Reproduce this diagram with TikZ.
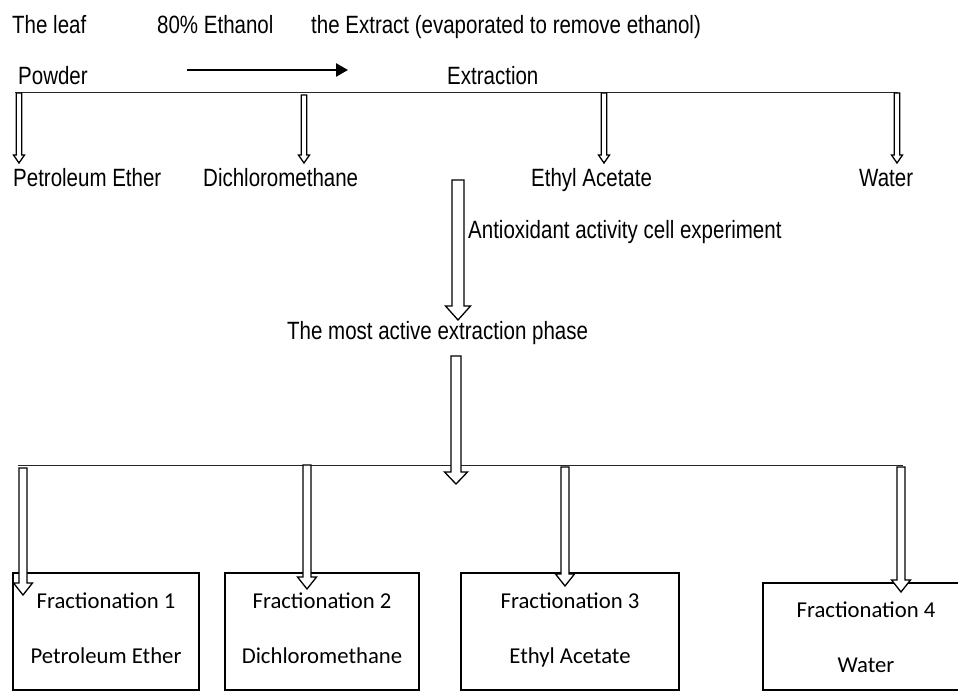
\documentclass[tikz,border=0pt]{standalone}
\usepackage{fontspec}
\setmainfont[FakeStretch=0.82]{Liberation Sans}
\newfontfamily\boxfont{Carlito}
\usetikzlibrary{calc,arrows.meta}
\begin{document}
\begin{tikzpicture}[x=1pt,y=-1pt,
  lbl/.style={anchor=base west, inner sep=0pt, font=\fontsize{25}{30}\selectfont},
  btxt/.style={anchor=base, inner sep=0pt, font=\boxfont\fontsize{22.7}{27}\selectfont},
  fbox/.style={draw, line width=1.3pt, inner sep=0pt},
  hline/.style={line width=1pt, draw=black!85},
  hollow/.style n args={3}{line width=1.3pt, fill=white, to path={let \p1=(\tikztostart), \p2=(\tikztotarget) in (\x1-#1,\y1) -- (\x1-#1,\y2+#3) -- (\x1-#2,\y2+#3) -- (\x2,\y2) -- (\x1+#2,\y2+#3) -- (\x1+#1,\y2+#3) -- (\x1+#1,\y1) -- cycle}},
  small/.style={hollow={2.8pt}{5.5pt}{8pt}},
  bottom/.style={hollow={4pt}{9.5pt}{12pt}},
]
\path[fill=white] (0,0) rectangle (958,692);
\useasboundingbox (0,0) rectangle (958,692);

% top texts
\node[lbl] (leaf) at (12,34) {The leaf};
\node[lbl] (eth) at (157,34) {80\% Ethanol};
\node[lbl] (extract) at (311,34) {the Extract (evaporated to remove ethanol)};
\node[lbl] (powder) at (18,85) {Powder};
\node[lbl] (extraction) at (447,85) {Extraction};

\coordinate (arA) at (187,70);
\coordinate (arB) at (348,70);
\draw[line width=2.5pt, -{Triangle[length=12pt,width=13pt]}] (arA) -- (arB);

% first split
\coordinate (l1a) at (15,93);
\coordinate (l1b) at (898,93);
\draw[hline] (l1a) -- (l1b);

\coordinate (s1) at (19,93);   \coordinate (t1) at (19,163);
\coordinate (s2) at (304,95);  \coordinate (t2) at (304,163);
\coordinate (s3) at (604,93);  \coordinate (t3) at (604,163);
\coordinate (s4) at (897,93);  \coordinate (t4) at (897,163);
\draw[small] (s1) to (t1);
\draw[small] (s2) to (t2);
\draw[small] (s3) to (t3);
\draw[small] (s4) to (t4);

\node[lbl] (pe) at (13,187) {Petroleum Ether};
\node[lbl] (dcm) at (203,187) {Dichloromethane};
\node[lbl] (ea) at (531,187) {Ethyl Acetate};
\node[lbl] (wa) at (859,187) {Water};

% big arrow 1
\coordinate (b1s) at (458,180);
\coordinate (b1t) at (458,320);
\draw[hollow={6pt}{12.5pt}{14pt}] (b1s) to (b1t);
\node[lbl] (anti) at (468,239) {Antioxidant activity cell experiment};
\node[lbl] (most) at (287,340) {The most active extraction phase};

% second split
\coordinate (l2a) at (18,465);
\coordinate (l2b) at (903,465);
\draw[hline] (l2a) -- (l2b);

\coordinate (b2s) at (456,356);
\coordinate (b2t) at (456,484);
\draw[hollow={5pt}{11.5pt}{12pt}] (b2s) to (b2t);

% boxes
\node[fbox, minimum width=186pt, minimum height=117pt] (box1) at (106,631.5) {};
\node[fbox, minimum width=194pt, minimum height=117pt] (box2) at (322,631.5) {};
\node[fbox, minimum width=218pt, minimum height=117pt] (box3) at (570,631.5) {};
\node[fbox, minimum width=199pt, minimum height=107pt] (box4) at (862.5,636.5) {};

\node[btxt] (f1) at (106,608) {Fractionation 1};
\node[btxt] (f1b) at (106,663) {Petroleum Ether};
\node[btxt] (f2) at (322,608) {Fractionation 2};
\node[btxt] (f2b) at (322,663) {Dichloromethane};
\node[btxt] (f3) at (570,608) {Fractionation 3};
\node[btxt] (f3b) at (570,663) {Ethyl Acetate};
\node[btxt] (f4) at (866,617) {Fractionation 4};
\node[btxt] (f4b) at (866,672) {Water};

\coordinate (u1) at (23,468);  \coordinate (v1) at (23,595);
\coordinate (u2) at (307,465); \coordinate (v2) at (307,589);
\coordinate (u3) at (565,467); \coordinate (v3) at (565,586);
\coordinate (u4) at (901,467); \coordinate (v4) at (901,592);
\draw[bottom] (u1) to (v1);
\draw[bottom] (u2) to (v2);
\draw[bottom] (u3) to (v3);
\draw[bottom] (u4) to (v4);
\end{tikzpicture}
\end{document}
